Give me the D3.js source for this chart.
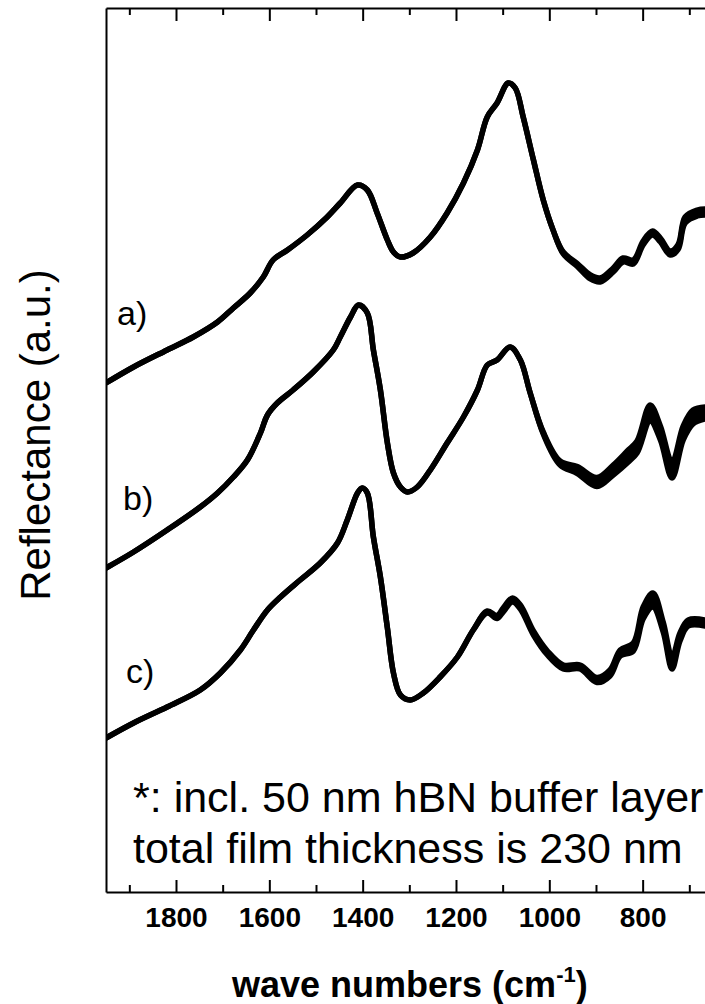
<!DOCTYPE html>
<html>
<head>
<meta charset="utf-8">
<script src="https://cdn.jsdelivr.net/npm/d3@7"></script>
<style>
body { margin: 0; background: #fff; }
svg { display: block; font-family: "Liberation Sans", Arial, Helvetica, sans-serif; }
</style>
</head>
<body>
<script>
const WIDTH = 705;
const HEIGHT = 1004;

// wave numbers (cm^-1) and reflectance (a.u., curves offset)
const waveA = [1950,1891,1819,1763,1711,1677,1641,1613,1592,1561,1519,1476,1448,1411,1390,1369,1347,1334,1319,1292,1255,1219,1184,1154,1133,1112,1088,1073,1056,1034,1013,992,970,940,912,891,863,842,820,799,779,762,741,724,709,683,666];
const reflA = [50.9,52.5,54.2,55.5,57.0,58.4,59.9,61.5,63.2,64.2,65.7,67.5,68.9,70.7,70.2,67.9,65.2,64.0,63.5,63.9,65.5,67.9,70.9,74.2,77.5,78.9,80.9,80.4,77.5,73.2,69.2,66.2,63.9,62.7,61.5,61.2,62.2,63.2,63.0,64.9,65.9,65.2,63.9,64.5,67.2,67.9,68.0];
const noiseA = [0,0,0,0,0,0,0,0,0,0,0,0,0,0,0,0,0,0,0,0,0,0,0,0,0,0,0,0,0,0,0,0,0.1,0.15,0.2,0.2,0.2,0.2,0.2,0.2,0.2,0.2,0.2,0.25,0.3,0.3,0.3];

const waveB = [1950,1891,1819,1748,1711,1677,1647,1619,1604,1583,1549,1506,1463,1448,1426,1409,1390,1377,1362,1347,1334,1319,1304,1283,1255,1219,1184,1154,1133,1112,1084,1062,1041,1013,977,940,898,863,833,812,784,762,737,713,692,666];
const reflB = [32.4,34.0,36.2,38.5,39.9,41.5,43.2,45.9,47.7,48.9,50.2,52.0,54.2,55.5,57.5,58.7,57.9,54.2,50.2,44.9,41.9,40.5,40.0,40.5,42.2,44.9,47.5,50.2,52.7,53.2,54.5,53.2,49.9,45.9,42.9,42.2,41.0,42.2,43.5,44.5,47.9,45.9,42.2,45.9,47.5,47.9];
const noiseB = [0,0,0,0,0,0,0,0,0,0,0,0,0,0,0,0,0,0,0,0,0,0,0,0,0,0,0,0,0,0,0,0,0,0.1,0.2,0.35,0.45,0.5,0.6,0.6,0.8,0.7,0.8,0.7,0.7,0.6];

const waveC = [1950,1891,1819,1748,1705,1662,1634,1604,1576,1534,1491,1454,1433,1411,1401,1390,1377,1362,1347,1334,1319,1298,1270,1234,1197,1163,1133,1112,1099,1079,1062,1034,1004,970,934,898,870,848,820,799,778,756,737,720,702,666];
const reflC = [15.4,16.9,18.5,20.2,21.9,24.2,26.2,28.2,29.5,31.2,32.9,34.9,37.2,39.9,40.4,39.9,35.5,31.5,26.4,21.9,19.7,19.2,19.9,21.5,23.5,26.2,28.0,27.5,28.2,29.2,28.5,25.9,23.9,22.5,22.5,21.2,21.9,23.9,24.5,27.9,29.2,26.5,22.9,25.5,26.9,26.9];
const noiseC = [0,0,0,0,0,0,0,0,0,0,0,0,0,0,0,0,0,0,0,0,0,0,0,0,0,0,0.1,0.15,0.2,0.2,0.2,0.2,0.2,0.2,0.2,0.25,0.3,0.3,0.4,0.6,0.7,0.5,0.6,0.4,0.3,0.3];

const curveLabels = ['a)', 'b)', 'c)'];
const majorTicks = [1800, 1600, 1400, 1200, 1000, 800];
const minorTicks = [1900, 1700, 1500, 1300, 1100, 900, 700];
const noteLines = ['*: incl. 50 nm hBN buffer layer', 'total film thickness is 230 nm'];

const LEFT = 106, TOP = 8, BOTTOM = 892;

const svg = d3.select('body')
    .append('svg')
    .attr('width', WIDTH)
    .attr('height', HEIGHT);

const x = d3.scaleLinear().domain([1950, 650]).range([LEFT, LEFT + 1300 * 93.33 / 200]);
const y = d3.scaleLinear().domain([0, 88.4]).range([BOTTOM, TOP]);

svg.append('defs').append('clipPath').attr('id', 'plotclip')
    .append('rect')
    .attr('x', LEFT).attr('y', TOP)
    .attr('width', WIDTH - LEFT).attr('height', BOTTOM - TOP);

// axes
const bottomAxis = svg.append('g')
    .attr('transform', `translate(0, ${BOTTOM})`)
    .call(d3.axisBottom(x).tickValues(majorTicks).tickSizeInner(-12).tickSizeOuter(0)
        .tickPadding(15).tickFormat(d3.format('d')));
svg.append('g')
    .attr('transform', `translate(0, ${BOTTOM})`)
    .call(d3.axisBottom(x).tickValues(minorTicks).tickSizeInner(-7).tickSizeOuter(0).tickFormat(''))
    .call(g => g.select('.domain').remove());

svg.append('g')
    .attr('transform', `translate(0, ${TOP})`)
    .call(d3.axisTop(x).tickValues(majorTicks).tickSizeInner(-13).tickSizeOuter(0).tickFormat(''));
svg.append('g')
    .attr('transform', `translate(0, ${TOP})`)
    .call(d3.axisTop(x).tickValues(minorTicks).tickSizeInner(-7).tickSizeOuter(0).tickFormat(''))
    .call(g => g.select('.domain').remove());

svg.append('g')
    .attr('transform', `translate(${LEFT}, 0)`)
    .call(d3.axisLeft(y).tickValues([]).tickSizeOuter(0));

svg.selectAll('.domain, .tick line')
    .attr('stroke', '#000')
    .attr('stroke-width', 2);

bottomAxis.selectAll('.tick text')
    .attr('fill', '#000')
    .attr('font-family', '"Liberation Sans", Arial, sans-serif')
    .attr('font-size', 28)
    .attr('font-weight', 'bold');

// spectra
const series = [
    { wave: waveA, refl: reflA, noise: noiseA },
    { wave: waveB, refl: reflB, noise: noiseB },
    { wave: waveC, refl: reflC, noise: noiseC }
].map(s => s.wave.map((w, i) => ({ w: w, v: s.refl[i], n: s.noise[i] })));

const plot = svg.append('g').attr('clip-path', 'url(#plotclip)');

const line = d3.line()
    .x(d => x(d.w))
    .y(d => y(d.v))
    .curve(d3.curveCatmullRom.alpha(0.5));

// noisy stretches drawn as a band round the line
const band = d3.area()
    .x(d => x(d.w))
    .y0(d => y(d.v - d.n))
    .y1(d => y(d.v + d.n))
    .curve(d3.curveCatmullRom.alpha(0.5));

plot.selectAll('path.spec')
    .data(series)
    .enter()
    .append('path')
    .attr('class', 'spec')
    .attr('d', line)
    .attr('fill', 'none')
    .attr('stroke', '#000')
    .attr('stroke-width', 5.5)
    .attr('stroke-linejoin', 'round');

plot.selectAll('path.noise')
    .data(series)
    .enter()
    .append('path')
    .attr('class', 'noise')
    .attr('d', band)
    .attr('fill', '#000')
    .attr('stroke', '#000')
    .attr('stroke-width', 5.5)
    .attr('stroke-linejoin', 'round');

// curve labels a) b) c)
const labelPos = [[117, 325], [123, 510], [126, 683]];
svg.selectAll('text.lab')
    .data(curveLabels)
    .enter()
    .append('text')
    .attr('class', 'lab')
    .attr('x', (d, i) => labelPos[i][0])
    .attr('y', (d, i) => labelPos[i][1])
    .attr('font-size', 34)
    .text(d => d);

// note
svg.selectAll('text.note')
    .data(noteLines)
    .enter()
    .append('text')
    .attr('class', 'note')
    .attr('x', 133)
    .attr('y', (d, i) => 812 + i * 51)
    .attr('font-size', 43)
    .text(d => d);

// axis titles
const xt = svg.append('text')
    .attr('x', 232)
    .attr('y', 997)
    .attr('font-size', 36)
    .attr('font-weight', 'bold');
xt.append('tspan').text('wave numbers (cm');
xt.append('tspan').attr('font-size', 22).attr('dy', -15).text('-1');
xt.append('tspan').attr('dy', 15).text(')');

svg.append('text')
    .attr('transform', 'translate(50, 435) rotate(-90)')
    .attr('text-anchor', 'middle')
    .attr('font-size', 42)
    .text('Reflectance (a.u.)');
</script>
</body>
</html>
